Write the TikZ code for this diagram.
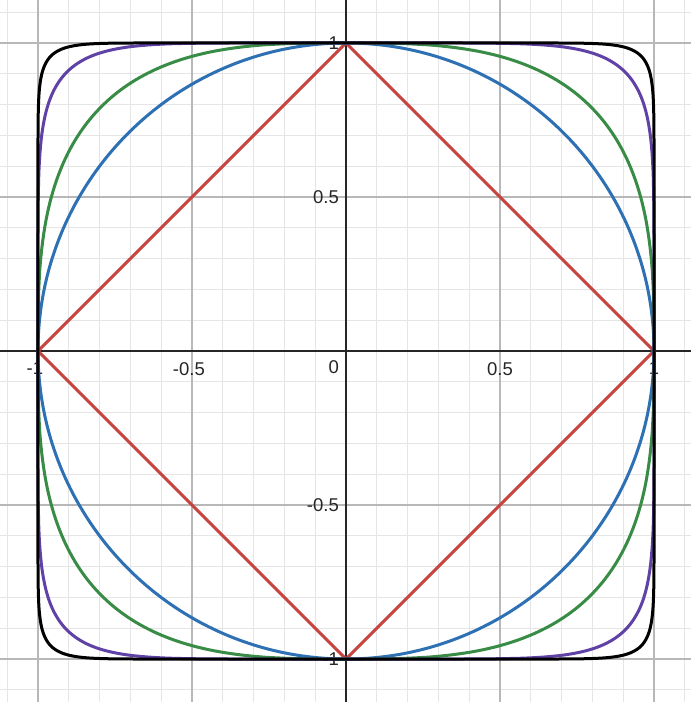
\documentclass[tikz,border=0pt]{standalone}
\usepackage{fontspec}
\setmainfont{Liberation Sans}
\definecolor{dred}{HTML}{C74440}
\definecolor{dblue}{HTML}{2D70B3}
\definecolor{dgreen}{HTML}{388C46}
\definecolor{dpurple}{HTML}{6042A6}
\newcommand\superball[2]{%
  \draw[curve,#2] plot[domain=0.25:360.25, samples=721, variable=\t]
    ({sign(cos(\t))*pow(abs(cos(\t)),#1)},{sign(sin(\t))*pow(abs(sin(\t)),#1)}) -- cycle;}
\begin{document}
\begin{tikzpicture}[x=308pt,y=308pt,
  minorgrid/.style={draw=black!10, line width=1pt},
  majorgrid/.style={draw=black!28, line width=1.2pt},
  axisline/.style={draw=black!85, line width=1.8pt},
  ticklabel/.style={font=\fontsize{18.5}{20}\selectfont, text=black!85, inner sep=0pt},
  curve/.style={line width=3pt, line join=round}]
\useasboundingbox (-346pt,-351pt) rectangle (345pt,351pt);
\fill[white] (-346pt,-351pt) rectangle (345pt,351pt);
% grid
\foreach \i in {-11,...,11} {
  \draw[minorgrid] (\i/10,-1.14) -- (\i/10,1.14);
  \draw[minorgrid] (-1.124,\i/10) -- (1.121,\i/10);
}
\foreach \v in {-1,-0.5,0.5,1} {
  \draw[majorgrid] (\v,-1.14) -- (\v,1.14);
  \draw[majorgrid] (-1.124,\v) -- (1.121,\v);
}
% axes
\draw[axisline] (-1.124,0) -- (1.121,0);
\draw[axisline] (0,-1.14) -- (0,1.14);
% tick labels
\node[ticklabel, anchor=north] (lxm1) at ([yshift=-11pt]-1,0) {\llap{-}1};
\node[ticklabel, anchor=north] (lxm05) at ([yshift=-11pt]-0.5,0) {\llap{-}0.5};
\node[ticklabel, anchor=north] (lx05) at ([yshift=-11pt]0.5,0) {0.5};
\node[ticklabel, anchor=north] (lx1) at ([yshift=-11pt]1,0) {1};
\node[ticklabel, anchor=north east] (l0) at (-7pt,-9pt) {0};
\node[ticklabel, anchor=east] (ly1) at ([xshift=-7pt]0,1) {1};
\node[ticklabel, anchor=east] (ly05) at ([xshift=-7pt]0,0.5) {0.5};
\node[ticklabel, anchor=east] (lym05) at ([xshift=-7pt]0,-0.5) {-0.5};
\node[ticklabel, anchor=east] (lym1) at ([xshift=-7pt]0,-1) {-1};
% unit balls
\draw[curve, dred] (1,0) -- (0,1) -- (-1,0) -- (0,-1) -- cycle;
\draw[curve, dblue] (0,0) circle[radius=1];
\superball{0.6667}{dgreen}
\superball{0.2857}{dpurple}
\superball{0.125}{black}
\end{tikzpicture}
\end{document}
